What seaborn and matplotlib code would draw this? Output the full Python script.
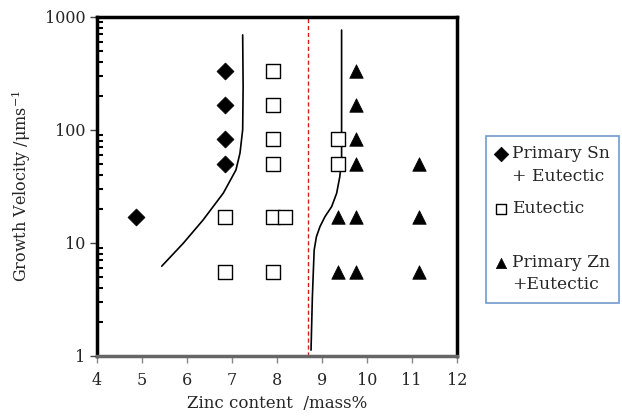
import matplotlib
matplotlib.use("Agg")
import matplotlib.pyplot as plt
import seaborn as sns
from matplotlib.ticker import LogLocator, NullFormatter, FixedLocator, FixedFormatter
from matplotlib.legend_handler import HandlerPathCollection

# ---- data ----
sn_x = [6.84, 6.84, 6.84, 6.84, 4.87]
sn_y = [333, 166, 83, 50, 17]

eut_x = [7.92, 7.92, 7.92, 7.92, 7.92, 7.92, 6.84, 6.84, 8.18, 9.35, 9.35]
eut_y = [333, 166, 83, 50, 17, 5.5, 17, 5.5, 17, 83, 50]

zn_x = [9.76, 9.76, 9.76, 9.76, 9.76, 9.76, 9.35, 9.35, 11.16, 11.16, 11.16]
zn_y = [333, 166, 83, 50, 17, 5.5, 17, 5.5, 50, 17, 5.5]

left_curve_x = [5.44, 5.92, 6.36, 6.81, 7.09, 7.18, 7.24, 7.25, 7.24]
left_curve_y = [6.2, 9.9, 15.9, 27.5, 44, 62, 100, 240, 690]

right_curve_x = [8.76, 8.79, 8.81, 8.83, 8.88, 8.96, 9.07, 9.22, 9.33, 9.40, 9.44, 9.44, 9.44]
right_curve_y = [1.12, 3.3, 5.4, 8.6, 11.3, 13.9, 17, 20.9, 27.4, 38.4, 54, 93, 762]

eutectic_comp = 8.70

x_ticks = [4, 5, 6, 7, 8, 9, 10, 11, 12]
y_ticks = [1, 10, 100, 1000]
y_tick_labels = ["1", "10", "100", "1000"]

labels = ["Primary Sn\n+ Eutectic", "Eutectic\n", "Primary Zn\n+Eutectic"]
x_label = "Zinc content  /mass%"
y_label = "Growth Velocity /\u03bcms$^{-1}$"

# ---- plot ----
sns.set_style("white")
plt.rcParams['font.family'] = ['DejaVu Serif']
plt.rcParams['mathtext.fontset'] = 'dejavuserif'

fig = plt.figure(figsize=(6.22, 4.16), dpi=100)
ax = fig.add_axes([97/622, 1-355.7/416, (456.7-97)/622, (355.7-16.7)/416])

sns.lineplot(x=left_curve_x, y=left_curve_y, sort=False, estimator=None,
             color="black", linewidth=1.2, ax=ax)
sns.lineplot(x=right_curve_x, y=right_curve_y, sort=False, estimator=None,
             color="black", linewidth=1.2, ax=ax)
ax.axvline(eutectic_comp, color="#d02020", linestyle=(0, (3, 2)), linewidth=1.0)

sns.scatterplot(x=sn_x, y=sn_y, marker="D", s=75, color="black",
                edgecolor="black", linewidth=0.5, ax=ax, label=labels[0], zorder=5)
sns.scatterplot(x=eut_x, y=eut_y, marker="s", s=95, facecolor="white",
                edgecolor="black", linewidth=1.0, ax=ax, label=labels[1], zorder=5)
sns.scatterplot(x=zn_x, y=zn_y, marker="^", s=95, color="black",
                edgecolor="black", linewidth=0.5, ax=ax, label=labels[2], zorder=5)

ax.set_yscale("log")
ax.set_xlim(4, 12)
ax.set_ylim(1, 1000)

ax.xaxis.set_major_locator(FixedLocator(x_ticks))
ax.set_xticklabels([str(t) for t in x_ticks])
ax.yaxis.set_major_locator(FixedLocator(y_ticks))
ax.yaxis.set_major_formatter(FixedFormatter(y_tick_labels))
ax.yaxis.set_minor_locator(LogLocator(base=10, subs=range(2, 10)))
ax.yaxis.set_minor_formatter(NullFormatter())

ax.tick_params(axis="y", which="major", direction="out", length=5, width=1,
               color="#444444", labelsize=11.5, left=True)
ax.tick_params(axis="y", which="minor", direction="in", length=4, width=1.5,
               color="black", left=True)
ax.tick_params(axis="x", which="major", direction="out", length=5, width=1,
               color="#888888", labelsize=11.5, bottom=True, pad=7)

for side in ["left", "top", "right"]:
    ax.spines[side].set_color("black")
    ax.spines[side].set_linewidth(2.5)
    ax.spines[side].set_visible(True)
ax.spines["bottom"].set_color("#666666")
ax.spines["bottom"].set_linewidth(2.5)
ax.spines["bottom"].set_visible(True)

ax.set_xlabel(x_label, fontsize=12, labelpad=4)
ax.set_ylabel(y_label, fontsize=11.5, labelpad=8)


class TopAlignedHandler(HandlerPathCollection):
    def get_ydata(self, legend, xdescent, ydescent, width, height, fontsize):
        y = super().get_ydata(legend, xdescent, ydescent, width, height, fontsize)
        return [v + 0.75 * fontsize for v in y]


handles, lbls = ax.get_legend_handles_labels()
hmap = {h: TopAlignedHandler(sizes=[55]) for h in handles}
leg = ax.legend(handles, lbls, handler_map=hmap, scatterpoints=1,
                loc="upper left", bbox_to_anchor=(486/622, 1-136/416),
                bbox_transform=fig.transFigure, frameon=True, fancybox=False,
                fontsize=12.3, handlelength=0.7, handletextpad=0.25,
                labelspacing=0.85, borderpad=0.55, borderaxespad=0)
for t in leg.get_texts():
    t.set_linespacing(1.43)
leg.get_frame().set_edgecolor("#4f81bd")
leg.get_frame().set_linewidth(1.2)

fig.savefig("out.png", dpi=100)
